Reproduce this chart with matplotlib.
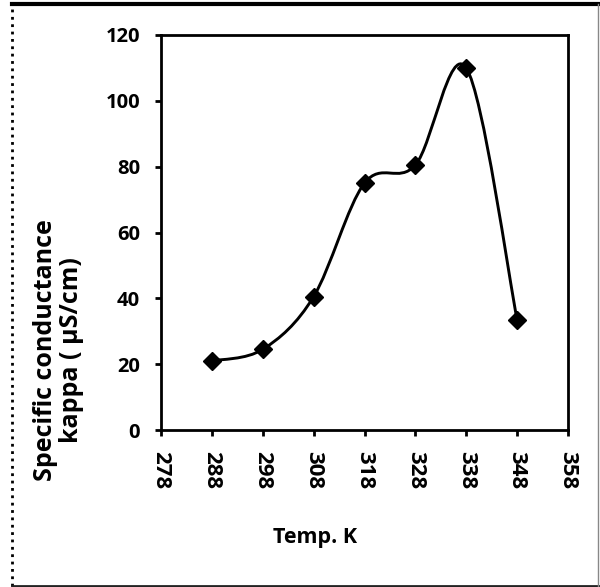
import matplotlib
matplotlib.use("Agg")
import matplotlib.pyplot as plt
import numpy as np
from matplotlib.path import Path
from matplotlib.patches import PathPatch
from matplotlib.lines import Line2D

temps = [288, 298, 308, 318, 328, 338, 348]
kappa = [21, 24.5, 40.5, 75, 80.5, 110, 33.5]
xticks = [278, 288, 298, 308, 318, 328, 338, 348, 358]
yticks = [0, 20, 40, 60, 80, 100, 120]

plt.rcParams['font.family'] = ['Open Sans', 'DejaVu Sans']
plt.rcParams['font.weight'] = 'bold'

fig = plt.figure(figsize=(6, 5.87), dpi=100)
ax = fig.add_axes([161/600, 1-430/587, (568-161)/600, (430-35)/587])

# smooth curve (Catmull-Rom -> cubic Bezier) through the data points
pts = np.column_stack([temps, kappa]).astype(float)
verts = [tuple(pts[0])]
codes = [Path.MOVETO]
n = len(pts)
for i in range(n - 1):
    p0 = pts[i - 1] if i > 0 else pts[i]
    p1 = pts[i]
    p2 = pts[i + 1]
    p3 = pts[i + 2] if i + 2 < n else pts[i + 1]
    c1 = p1 + (p2 - p0) / 6.0
    c2 = p2 - (p3 - p1) / 6.0
    verts += [tuple(c1), tuple(c2), tuple(p2)]
    codes += [Path.CURVE4] * 3
ax.add_patch(PathPatch(Path(verts, codes), facecolor='none', edgecolor='black', lw=2.1, zorder=2))
ax.plot(temps, kappa, linestyle='none', marker='D', markersize=9.5, color='black', zorder=3)

ax.set_xlim(278, 358)
ax.set_ylim(0, 120)
ax.set_xticks(xticks)
ax.set_yticks(yticks)
ax.set_xticklabels([str(t) for t in xticks], rotation=-90, fontsize=16, fontweight='bold')
ax.set_yticklabels([str(t) for t in yticks], fontsize=14.5, fontweight='bold')
for s in ax.spines.values():
    s.set_linewidth(2)
ax.tick_params(direction='out', length=4, width=2)
ax.tick_params(axis='x', pad=11)
ax.tick_params(axis='y', pad=11)

fig.text(315/600, 1-537/587, 'Temp. K', ha='center', va='center', fontsize=15.5, fontweight='bold')
fig.text(58.5/600, 1-350/587, 'Specific conductance\nkappa ( µS/cm)', ha='center', va='center',
         rotation=90, fontsize=18, fontweight='bold', linespacing=1.0)

# border around the figure
fig.add_artist(Line2D([0.02, 1.0], [1-4/587, 1-4/587], transform=fig.transFigure, color='black', lw=3))
fig.add_artist(Line2D([12/600, 12/600], [0.002, 1-4/587], transform=fig.transFigure, color='black', lw=2, linestyle=':'))
fig.add_artist(Line2D([12/600, 1.0], [1.5/587, 1.5/587], transform=fig.transFigure, color='#222222', lw=2))
fig.add_artist(Line2D([598/600, 598/600], [0.002, 1-4/587], transform=fig.transFigure, color='#888888', lw=1))

fig.savefig('out.png', dpi=100, facecolor='white')
